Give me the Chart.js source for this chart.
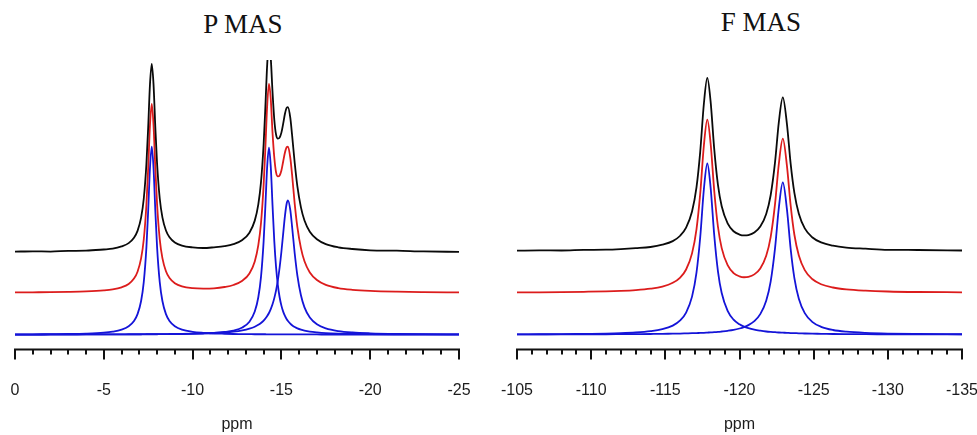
<!DOCTYPE html>
<html>
<head>
<meta charset="utf-8">
<script src="https://cdn.jsdelivr.net/npm/chart.js@4.4.1/dist/chart.umd.min.js"></script>
<style>
  html, body { margin: 0; padding: 0; background: #fff; }
  body { width: 977px; height: 435px; overflow: hidden; position: relative; }
  canvas { position: absolute; top: 0; }
  .ttl {
    position: absolute; top: 11px; width: 200px; text-align: center;
    font-family: "Liberation Serif", serif; font-size: 27px; line-height: 27px; color: #111;
  }
</style>
</head>
<body>
<div class="ttl" style="left:143px">P MAS</div>
<div class="ttl" style="left:661px; top:9px">F MAS</div>
<canvas id="pChart" width="490" height="435" style="left:0"></canvas>
<canvas id="fChart" width="488" height="435" style="left:490px"></canvas>
<script>
// P MAS: chemical shift (ppm) and intensities (offset traces: black = spectrum, red = fit, blue = components)
const ppmP = [0, -1, -2, -3, -4, -5, -5.5, -6, -6.4, -6.7, -6.9, -7.1, -7.25, -7.4, -7.5, -7.6,
  -7.7, -7.8, -7.9, -8.0, -8.15, -8.3, -8.5, -8.7, -9.0, -9.4, -10, -10.6, -11.2, -11.8, -12.3,
  -12.8, -13.2, -13.5, -13.7, -13.85, -14.0, -14.1, -14.2, -14.3, -14.4, -14.5, -14.6, -14.7,
  -14.8, -14.9, -15.0, -15.1, -15.2, -15.3, -15.37, -15.5, -15.6, -15.75, -15.9, -16.1, -16.3,
  -16.6, -17.0, -17.5, -18.2, -19, -20, -21.5, -23, -25];
const pBlack = [83.4, 83.8, 83.5, 84.2, 84.4, 85.6, 86.4, 88.7, 92.0, 97.4, 104.3, 117.6, 136.6,
  171.8, 208.8, 251.5, 272, 251.5, 208.9, 172.0, 136.8, 117.9, 104.7, 97.9, 92.7, 89.5, 87.7, 87.1,
  87.8, 88.9, 90.9, 95.2, 102.5, 114.6, 130.9, 153.0, 191.6, 229.9, 271.4, 293.1, 278.2, 244.0,
  216, 201, 197, 198, 203, 212, 222, 228, 228.5, 218, 201, 172.5, 149, 127.9, 114.7, 103.5, 95.9,
  91, 87.8, 86.1, 84.8, 84.4, 83.6, 83.2];
const pRed = [42.5, 42.6, 42.7, 43.0, 43.5, 44.5, 45.5, 47.6, 51.0, 56.4, 63.3, 76.6, 95.6, 130.8,
  167.8, 210.5, 231.9, 210.5, 167.9, 131.0, 95.8, 76.9, 63.7, 56.9, 51.7, 48.5, 46.7, 46.3, 46.6,
  47.9, 49.9, 54.2, 61.5, 73.6, 89.9, 112.0, 150.6, 188.9, 230.4, 252.1, 237.2, 203.0, 178, 163,
  159, 160, 165, 174, 183, 188.5, 189, 178, 161, 131.5, 108.0, 86.9, 73.7, 62.5, 54.9, 50.0, 46.8,
  45.1, 44.0, 43.2, 42.8, 42.5];
const pComp1 = [0.2, 0.3, 0.5, 0.7, 1.1, 2.0, 3.0, 5.0, 8.4, 13.7, 20.6, 33.8, 52.8, 88, 125, 167.6,
  189, 167.6, 125, 88, 52.8, 33.8, 20.6, 13.7, 8.4, 5.0, 2.8, 1.8, 1.2, 0.9, 0.7, 0.6, 0.5, 0.4, 0.4,
  0.4, 0.4, 0.4, 0.3, 0.3, 0.3, 0.3, 0.3, 0.3, 0.3, 0.3, 0.3, 0.3, 0.2, 0.2, 0.2, 0.2, 0.2, 0.2, 0.2,
  0.2, 0.2, 0.2, 0.2, 0.1, 0.1, 0.1, 0.1, 0.1, 0.1, 0.0];
const pComp2 = [0.1, 0.1, 0.1, 0.1, 0.2, 0.2, 0.2, 0.2, 0.3, 0.3, 0.3, 0.3, 0.3, 0.4, 0.4, 0.4,
  0.4, 0.4, 0.4, 0.4, 0.5, 0.5, 0.5, 0.5, 0.6, 0.7, 0.9, 1.2, 1.7, 2.7, 4.1, 7.2, 13.0, 23.2, 37.6,
  57.8, 94, 130.2, 169.2, 188, 169.2, 130.2, 94, 67.7, 49.8, 37.6, 29.2, 23.2, 18.8, 15.5, 13.7,
  11.1, 9.5, 7.7, 6.4, 5.1, 4.1, 3.1, 2.3, 1.6, 1.1, 0.8, 0.5, 0.3, 0.2, 0.2];
const pComp3 = [0.1, 0.1, 0.2, 0.2, 0.2, 0.3, 0.3, 0.3, 0.4, 0.4, 0.4, 0.4, 0.5, 0.5, 0.5, 0.5,
  0.5, 0.5, 0.5, 0.6, 0.6, 0.6, 0.6, 0.7, 0.7, 0.8, 1.0, 1.3, 1.7, 2.3, 3.1, 4.4, 6.1, 8.0, 9.9,
  11.8, 14.2, 16.3, 18.8, 21.8, 25.7, 30.5, 36.7, 44.5, 54.6, 67.5, 83.3, 101.5, 119.4, 132, 135,
  125.4, 108.9, 81.6, 59.4, 39.6, 27.4, 17.2, 10.4, 6.3, 3.6, 2.2, 1.4, 0.8, 0.5, 0.3];

// F MAS
const ppmF = [-105, -106.5, -108, -109.5, -111, -112, -113, -114, -114.8, -115.5, -116, -116.4,
  -116.8, -117.1, -117.35, -117.6, -117.83, -118.05, -118.3, -118.55, -118.8, -119.2, -119.6, -120,
  -120.3, -120.6, -121, -121.4, -121.8, -122.1, -122.4, -122.65, -122.92, -123.2, -123.45, -123.7,
  -124, -124.4, -124.9, -125.5, -126.3, -127.2, -128.5, -130, -132, -135];
const fBlack = [84.4, 84.7, 84.6, 85.2, 85.4, 86.0, 86.9, 88.1, 90.4, 94.0, 99.4, 107.5, 123.7,
  147.9, 183.4, 232.3, 258, 234.6, 185.9, 150.2, 129.0, 111.8, 103.9, 100.6, 99.7, 100.1, 102.6,
  108.6, 121.3, 140.1, 173.9, 213.4, 238.5, 211.4, 171.6, 142.4, 121.5, 106.8, 97.9, 92.7, 89.4,
  87.5, 86.4, 85.3, 85.1, 84.6];
const fRed = [42.5, 42.6, 42.8, 43.1, 43.5, 44.0, 44.8, 46.2, 48.3, 52.1, 57.4, 65.5, 81.7, 105.9,
  141.4, 190.3, 216.1, 192.6, 143.9, 108.2, 87.0, 69.8, 61.9, 58.6, 57.7, 58.1, 60.6, 66.6, 79.3,
  98.1, 131.9, 171.4, 197.0, 169.4, 129.6, 100.4, 79.5, 64.8, 55.9, 50.7, 47.4, 45.5, 44.2, 43.4,
  42.9, 42.6];
const fComp1 = [0.3, 0.4, 0.5, 0.8, 1.1, 1.5, 2.2, 3.5, 5.5, 9.1, 14.3, 22.2, 38.2, 62.3, 97.6,
  146.4, 172, 148.3, 99.4, 63.4, 41.8, 23.9, 15.1, 10.4, 8.1, 6.5, 5.0, 4.0, 3.2, 2.8, 2.5, 2.2, 2.0,
  1.8, 1.6, 1.5, 1.4, 1.2, 1.0, 0.9, 0.7, 0.6, 0.5, 0.4, 0.3, 0.2];
const fComp2 = [0.2, 0.2, 0.3, 0.3, 0.4, 0.5, 0.6, 0.7, 0.8, 1.0, 1.1, 1.3, 1.5, 1.6, 1.8, 1.9, 2.1,
  2.3, 2.5, 2.8, 3.2, 3.9, 4.8, 6.2, 7.6, 9.6, 13.6, 20.6, 34.1, 53.3, 87.4, 127.2, 153, 125.6, 86.0,
  56.9, 36.1, 21.6, 12.9, 7.9, 4.7, 3.0, 1.8, 1.1, 0.7, 0.4];

const BLACK = '#0a0a0a';
const RED = '#dc1c1c';
const BLUE = '#1414d8';
const labelFont = { family: '"Liberation Sans", Arial, sans-serif', size: 16 };

// axis line with minor (1 ppm) and major (5 ppm) ticks
const axisTicks = {
    id: 'axisTicks',
    afterDraw(chart) {
        const sc = chart.scales.x;
        const area = chart.chartArea;
        const ctx = chart.ctx;
        ctx.save();
        ctx.strokeStyle = '#111';
        ctx.lineWidth = 2;
        ctx.beginPath();
        ctx.moveTo(area.left - 1, area.bottom);
        ctx.lineTo(area.right + 1, area.bottom);
        for (let v = sc.min; v <= sc.max; v++) {
            const px = Math.round(sc.getPixelForValue(v));
            ctx.moveTo(px, area.bottom);
            ctx.lineTo(px, area.bottom + (v % 5 === 0 ? 10 : 5));
        }
        ctx.stroke();
        ctx.restore();
    }
};

function toPoints(xs, ys) {
    return xs.map((x, i) => ({ x: x, y: ys[i] }));
}

function line(xs, ys, color) {
    return {
        data: toPoints(xs, ys),
        borderColor: color,
        borderWidth: 1.8,
        pointRadius: 0,
        fill: false,
        cubicInterpolationMode: 'monotone'
    };
}

function makePanel(id, xs, black, red, comps, min, max, padLeft, padRight) {
    const datasets = [line(xs, black, BLACK), line(xs, red, RED)];
    comps.forEach(c => datasets.push(line(xs, c, BLUE)));

    return new Chart(document.getElementById(id), {
        type: 'line',
        data: { datasets: datasets },
        options: {
            responsive: false,
            animation: false,
            layout: { padding: { top: 60, left: padLeft, right: padRight, bottom: 1 } },
            plugins: {
                legend: { display: false },
                tooltip: { enabled: false }
            },
            scales: {
                x: {
                    type: 'linear',
                    min: min,
                    max: max,
                    reverse: true,
                    grid: { display: false, drawTicks: false },
                    border: { display: false },
                    ticks: { stepSize: 5, padding: 31, font: labelFont, color: '#1c1c1c', maxRotation: 0, autoSkip: false },
                    title: { display: true, text: 'ppm', font: labelFont, color: '#1c1c1c', padding: { top: -16, bottom: 0 } },
                    // end labels may hang over the edges, don't let them shrink the plot
                    afterFit: s => { s.paddingLeft = 0; s.paddingRight = 0; }
                },
                y: { display: false, min: -15, max: 276 }
            }
        },
        plugins: [axisTicks]
    });
}

makePanel('pChart', ppmP, pBlack, pRed, [pComp1, pComp2, pComp3], -25, 0, 15, 31);
makePanel('fChart', ppmF, fBlack, fRed, [fComp1, fComp2], -135, -105, 27, 16);
</script>
</body>
</html>
